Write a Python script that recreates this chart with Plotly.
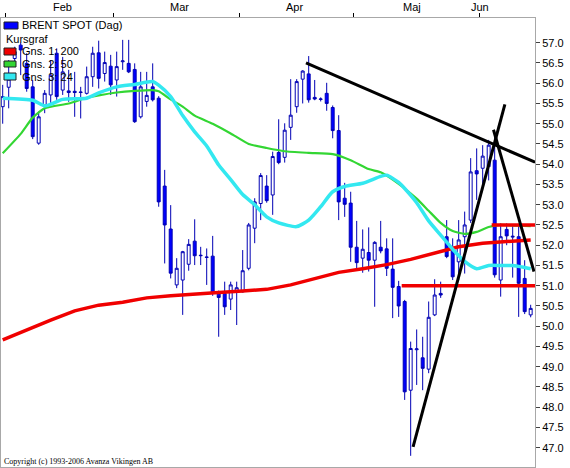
import plotly.graph_objects as go

# ---------------- data ----------------
open_ = [55.42, 55.90, 56.61, 56.94, 56.49, 55.91, 54.52, 55.46, 55.71, 56.74,
         55.83, 55.81, 55.80, 55.77, 55.75, 56.16, 56.75, 56.24, 56.42, 56.08,
         56.53, 56.49, 56.34, 55.17, 55.55, 55.91, 55.63, 53.46, 52.40, 51.02,
         51.14, 51.53, 52.10, 51.74, 51.71, 51.73, 50.81, 50.81, 50.67, 50.85,
         50.85, 51.43, 52.42, 53.03, 53.46, 53.24, 54.29, 54.17, 54.91, 55.42,
         56.10, 56.23, 55.65, 55.60, 55.75, 55.40, 54.83, 53.16, 53.04, 51.95,
         51.68, 51.82, 51.63, 51.95, 51.91, 51.41, 50.98, 50.61, 48.42, 49.42,
         49.22, 48.94, 50.28, 50.81, 52.21, 51.93, 51.59, 52.21, 52.62, 53.84,
         53.90, 53.94, 54.10, 51.14, 52.39, 52.20, 52.21, 51.18, 50.28]
high = [55.96, 56.57, 56.90, 57.00, 56.74, 56.08, 55.30, 55.83, 56.57, 56.86,
        56.65, 56.33, 56.28, 55.91, 56.41, 56.90, 57.05, 56.78, 56.70, 56.78,
        57.07, 57.07, 56.49, 56.28, 56.28, 56.49, 55.68, 53.86, 52.99, 51.68,
        51.86, 52.15, 52.64, 51.96, 51.92, 52.23, 50.88, 51.10, 51.10, 51.10,
        51.88, 52.55, 53.16, 53.78, 53.73, 54.31, 55.11, 55.01, 56.10, 56.10,
        56.32, 56.67, 56.08, 55.65, 56.01, 55.45, 55.21, 53.54, 53.32, 52.60,
        52.39, 52.44, 52.10, 52.60, 52.17, 52.17, 51.12, 50.65, 49.62, 49.92,
        49.74, 50.61, 51.16, 51.10, 52.62, 52.17, 52.62, 52.83, 54.15, 54.39,
        54.47, 54.60, 54.72, 52.54, 52.54, 52.50, 52.50, 51.63, 50.53]
low = [55.00, 55.38, 56.45, 56.20, 55.79, 54.62, 54.48, 55.26, 55.50, 55.59,
       55.71, 55.54, 55.17, 55.13, 55.72, 55.91, 55.87, 56.04, 55.71, 55.67,
       56.33, 56.25, 55.02, 55.13, 55.42, 55.55, 52.95, 51.55, 51.18, 50.94,
       50.28, 51.37, 51.51, 51.51, 51.02, 50.75, 49.74, 50.28, 50.40, 50.03,
       50.83, 51.38, 52.05, 52.62, 53.05, 52.75, 54.00, 54.04, 54.60, 55.27,
       55.50, 55.52, 55.58, 55.55, 55.32, 54.64, 52.62, 52.70, 51.59, 51.43,
       51.32, 51.35, 50.48, 51.80, 51.24, 50.20, 50.23, 48.18, 46.80, 48.55,
       48.42, 48.84, 50.25, 50.70, 51.68, 51.14, 51.14, 51.30, 52.55, 53.12,
       53.49, 53.60, 51.20, 50.73, 52.00, 51.20, 50.23, 50.30, 50.22]
close = [55.67, 56.10, 56.78, 56.82, 55.87, 54.68, 55.17, 55.75, 56.20, 55.67,
         56.28, 55.77, 55.77, 55.78, 56.16, 56.74, 56.12, 56.51, 55.96, 56.41,
         56.55, 56.28, 55.05, 55.91, 55.70, 55.59, 53.07, 52.50, 51.31, 51.43,
         51.84, 52.02, 51.74, 51.75, 51.70, 50.81, 50.71, 50.48, 51.02, 50.95,
         51.37, 52.50, 53.07, 53.72, 53.10, 54.19, 54.04, 54.84, 55.21, 56.04,
         56.30, 55.59, 55.61, 55.61, 55.50, 54.83, 53.07, 53.01, 51.95, 51.57,
         51.90, 51.63, 52.07, 51.86, 51.43, 50.96, 50.50, 48.38, 49.45, 49.44,
         48.96, 50.22, 50.77, 50.77, 51.72, 51.22, 52.13, 52.50, 53.81, 53.76,
         54.20, 54.47, 51.27, 52.21, 52.23, 52.22, 51.06, 50.36, 50.44]
day = list(range(len(close)))

# moving averages (day index, value)
ma200_day = [0, 4, 8, 12, 16, 20, 24, 28, 32, 36, 40, 44, 48, 52, 56, 60, 64, 68, 72, 76, 80, 84, 88]
ma200_val = [49.66, 49.91, 50.15, 50.38, 50.52, 50.59, 50.70, 50.75, 50.78, 50.83, 50.87, 50.91,
             51.02, 51.18, 51.33, 51.42, 51.52, 51.65, 51.81, 51.96, 52.05, 52.10, 52.13]
ma50_day = [0, 3, 5, 7, 11, 14, 16, 19, 22, 25, 26, 28, 30, 32, 35, 38, 41, 44, 47, 51, 55, 58,
            61, 63, 65, 67, 69, 71, 73, 75, 77, 79, 81, 83, 86, 88]
ma50_val = [54.27, 54.75, 55.15, 55.38, 55.50, 55.64, 55.70, 55.77, 55.81, 55.83, 55.80, 55.60,
            55.42, 55.20, 55.00, 54.76, 54.50, 54.40, 54.32, 54.28, 54.25, 54.10, 53.88, 53.80,
            53.62, 53.40, 53.15, 52.85, 52.55, 52.35, 52.28, 52.33, 52.45, 52.50, 52.48, 52.47]
ma24_day = [0, 5, 7, 8, 10, 14, 16, 19, 22, 25, 26, 28, 30, 32, 34, 36, 38, 40, 42, 44, 46, 49,
            51, 53, 55, 57, 60, 63, 64, 66, 67, 69, 71, 73, 75, 77, 79, 81, 83, 85, 87, 88]
ma24_val = [55.63, 55.58, 55.44, 55.48, 55.60, 55.63, 55.76, 55.91, 55.97, 56.04, 55.95, 55.67,
            55.20, 54.80, 54.45, 53.98, 53.62, 53.25, 53.00, 52.70, 52.55, 52.46, 52.62, 52.95,
            53.32, 53.45, 53.53, 53.70, 53.73, 53.55, 53.40, 53.05, 52.60, 52.25, 51.90, 51.60,
            51.42, 51.50, 51.50, 51.50, 51.45, 51.42]

# drawn trend lines: (day, value) pairs
trend_lines = [
    ([50.55, 88.72], [56.50, 54.05]),
    ([68.40, 83.70], [47.02, 55.48]),
    ([81.80, 88.55], [54.85, 51.35]),
]
# horizontal support/resistance levels
level_values = [51.0, 52.5]
level_start = [66.5, 81.5]

# axis labels
month_names = ["Feb", "Mar", "Apr", "Maj", "Jun"]
month_start = [0.5, 18.5, 39.5, 58.5, 79.5]
month_label_at = [10.0, 29.4, 48.7, 68.2, 79.6]
y_ticks = [47.0 + 0.5 * k for k in range(21)]

legend_names = ["BRENT SPOT (Dag)", "Kursgraf", "Gns. 1: 200", "Gns. 2: 50", "Gns. 3: 24"]

# ---------------- figure ----------------
W, H = 570, 468
L, R, T, B = 1, 35, 18, 1
PW, PH = W - L - R, H - T - B
X_RANGE = [-0.283, 88.72]
Y_RANGE = [46.524, 57.61]

def px(x):
    return (x - L) / PW

def py(y):
    return 1 - (y - T) / PH

BLUE = "#0000FF"
WICK = "#0000B4"
RED = "#F00000"
GREEN = "#33D633"
CYAN = "#33E8F0"

fig = go.Figure()
fig.add_trace(go.Candlestick(
    x=day, open=open_, high=high, low=low, close=close,
    increasing=dict(line=dict(color=WICK, width=1), fillcolor="white"),
    decreasing=dict(line=dict(color=WICK, width=1), fillcolor=BLUE),
    whiskerwidth=0, showlegend=False, hoverinfo="skip",
))

fig.add_trace(go.Scatter(x=ma200_day, y=ma200_val, mode="lines",
                         line=dict(color=RED, width=3.5), showlegend=False, hoverinfo="skip"))
fig.add_trace(go.Scatter(x=ma50_day, y=ma50_val, mode="lines",
                         line=dict(color=GREEN, width=2.2, shape="spline", smoothing=0.5),
                         showlegend=False, hoverinfo="skip"))
fig.add_trace(go.Scatter(x=ma24_day, y=ma24_val, mode="lines",
                         line=dict(color=CYAN, width=3.5, shape="spline", smoothing=0.6),
                         showlegend=False, hoverinfo="skip"))

for lv, ls in zip(level_values, level_start):
    fig.add_trace(go.Scatter(x=[ls, X_RANGE[1]], y=[lv, lv], mode="lines",
                             line=dict(color=RED, width=3.5), showlegend=False, hoverinfo="skip"))

for xs, ys in trend_lines:
    fig.add_trace(go.Scatter(x=xs, y=ys, mode="lines",
                             line=dict(color="black", width=3), showlegend=False, hoverinfo="skip"))

annotations = []
for name, pos in zip(month_names, month_label_at):
    annotations.append(dict(x=pos, xref="x", y=py(7), yref="paper", text=name,
                            showarrow=False, xanchor="center", yanchor="middle",
                            font=dict(family="Liberation Sans", size=11, color="black")))

legend_pos = [(20, 25), (4, 39), (20, 51), (20, 64), (20, 77)]
for name, (lx, ly) in zip(legend_names, legend_pos):
    annotations.append(dict(x=px(lx), xref="paper", y=py(ly), yref="paper", text=name,
                            showarrow=False, xanchor="left", yanchor="middle",
                            font=dict(family="Liberation Sans", size=11, color="black")))

annotations.append(dict(x=px(2), xref="paper", y=py(461), yref="paper",
                        text="Copyright (c) 1993-2006 Avanza Vikingen AB",
                        showarrow=False, xanchor="left", yanchor="middle",
                        font=dict(family="Liberation Serif", size=8, color="black")))

shapes = []
swatches = [((4, 22, 18, 29), BLUE), ((4, 48, 16, 55), RED), ((4, 61, 16, 67), GREEN), ((4, 73, 16, 80), CYAN)]
for (x0, y0, x1, y1), col in swatches:
    shapes.append(dict(type="rect", xref="paper", yref="paper",
                       x0=px(x0), x1=px(x1), y0=py(y1), y1=py(y0),
                       fillcolor=col, line=dict(color="#202020", width=1)))

fig.update_layout(
    width=W, height=H, autosize=False,
    margin=dict(l=L, r=R, t=T, b=B, pad=0),
    paper_bgcolor="white", plot_bgcolor="white",
    showlegend=False,
    annotations=annotations, shapes=shapes,
    xaxis=dict(range=X_RANGE, side="top", showgrid=False, zeroline=False,
               tickvals=month_start, ticktext=["" for _ in month_start],
               ticks="outside", ticklen=4, tickcolor="black",
               showline=True, linecolor="#A8A8A8", linewidth=1, mirror=True,
               rangeslider=dict(visible=False), fixedrange=True),
    yaxis=dict(range=Y_RANGE, side="right", showgrid=False, zeroline=False,
               tickvals=y_ticks, ticktext=[f"{v:.1f}" for v in y_ticks],
               ticks="outside", ticklen=4, tickcolor="#404040",
               tickfont=dict(family="Liberation Sans", size=11, color="black"),
               showline=True, linecolor="#A8A8A8", linewidth=1, mirror=True,
               fixedrange=True),
    hovermode=False,
)

fig.write_html("out.html", config={"displayModeBar": False, "staticPlot": True},
               post_script="document.body.style.margin='0';")
